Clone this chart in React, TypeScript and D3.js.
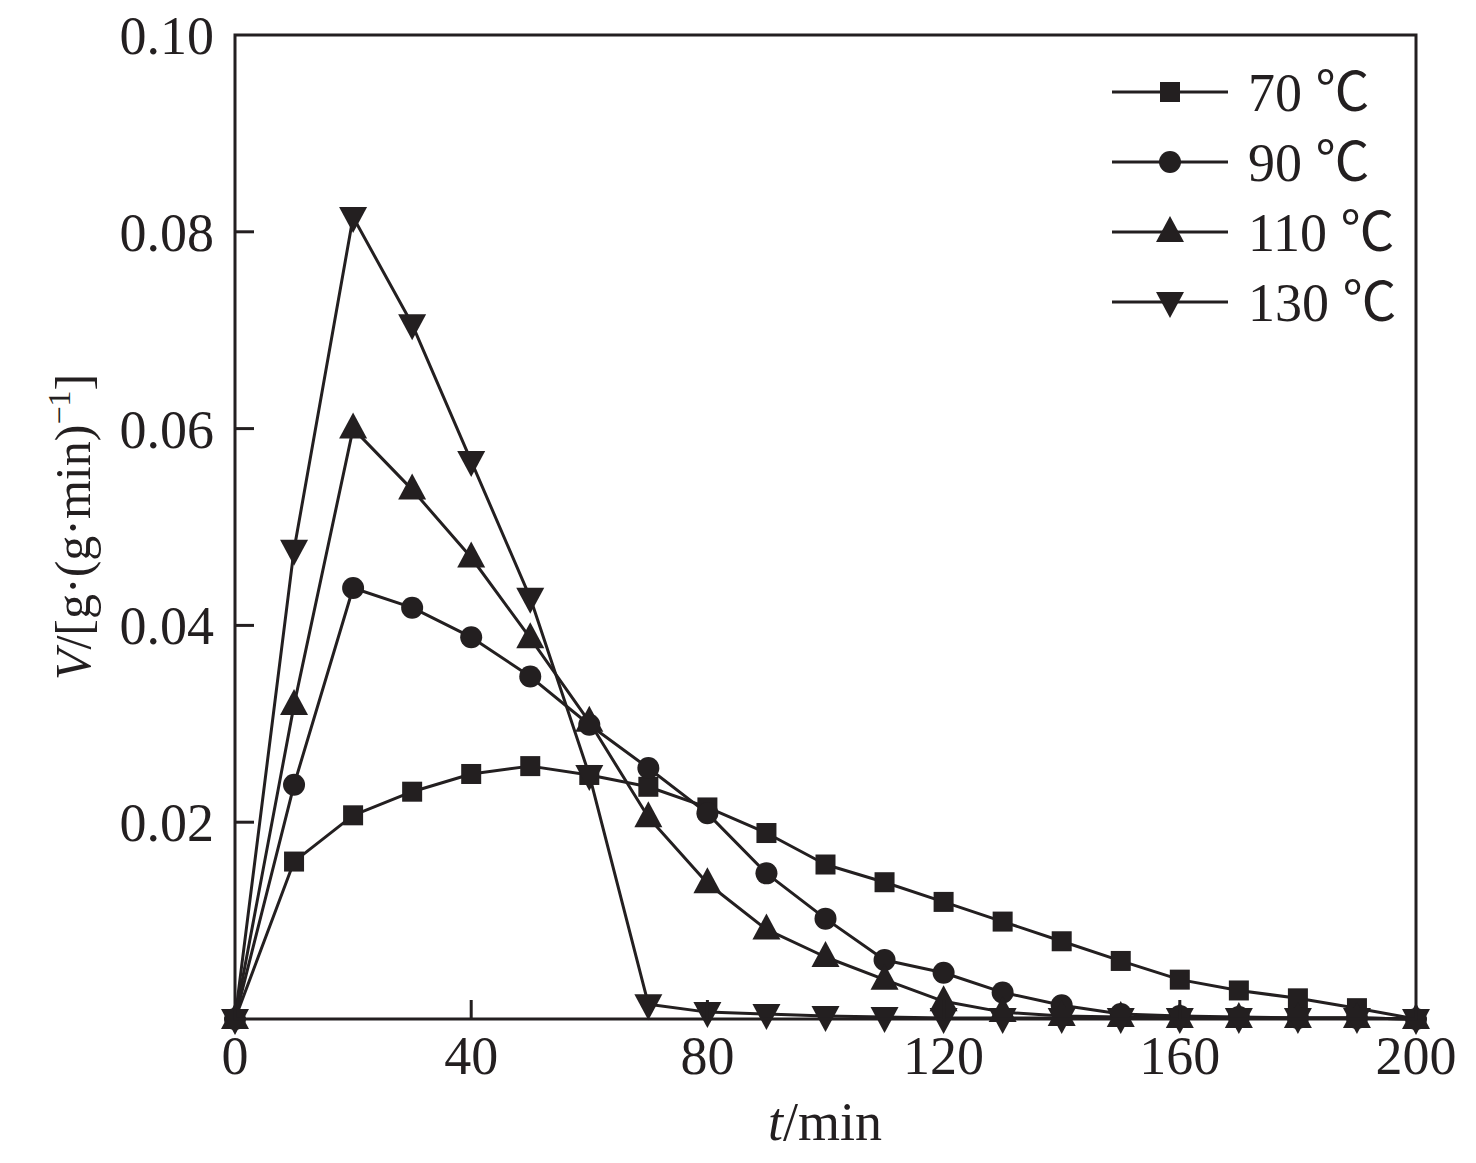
import * as React from 'react'
import * as d3 from 'd3'

// time points (min)
const times = [0, 10, 20, 30, 40, 50, 60, 70, 80, 90, 100, 110, 120, 130, 140, 150, 160, 170, 180, 190, 200]

const v70 = [0, 0.016, 0.0207, 0.0231, 0.0249, 0.0257, 0.0248, 0.0236, 0.0215, 0.0189, 0.0157, 0.0139, 0.0119, 0.0099, 0.0079, 0.0059, 0.004, 0.0029, 0.0021, 0.0011, 0]
const v90 = [0, 0.0238, 0.0438, 0.0418, 0.0388, 0.0348, 0.0299, 0.0255, 0.0209, 0.0148, 0.0102, 0.006, 0.0047, 0.0027, 0.0014, 0.0005, 0.0003, 0.0002, 0.0001, 0.0001, 0]
const v110 = [0, 0.0319, 0.06, 0.0538, 0.0469, 0.0387, 0.0302, 0.0205, 0.0138, 0.0091, 0.0063, 0.004, 0.0018, 0.0007, 0.0003, 0.0002, 0.0001, 0.0001, 0.0001, 0.0001, 0]
const v130 = [0, 0.0477, 0.0815, 0.0706, 0.0567, 0.0428, 0.0248, 0.0015, 0.0007, 0.0005, 0.0003, 0.0002, 0.0001, 0.0001, 0.0001, 0.0001, 0.0001, 0.0001, 0.0001, 0.0001, 0]

const seriesNames = ['70 ℃', '90 ℃', '110 ℃', '130 ℃']
const seriesShapes = ['square', 'circle', 'triangleUp', 'triangleDown']
const seriesValues = [v70, v90, v110, v130]

const xTicks = [0, 40, 80, 120, 160, 200]
const yTicks = [0.02, 0.04, 0.06, 0.08, 0.1]

const W = 1476
const H = 1163
const FONT = '"Liberation Serif", "Times New Roman", "Noto Sans CJK SC", serif'
const INK = '#231f20'

function Marker({ shape, x, y }: { shape: string; x: number; y: number }) {
  if (shape === 'square') {
    return <rect x={x - 10} y={y - 10} width={20} height={20} fill={INK} />
  }
  if (shape === 'circle') {
    return <circle cx={x} cy={y} r={11} fill={INK} />
  }
  if (shape === 'triangleUp') {
    return <path d={`M${x},${y - 16}L${x + 14},${y + 10}L${x - 14},${y + 10}Z`} fill={INK} />
  }
  return <path d={`M${x},${y + 16}L${x + 14},${y - 10}L${x - 14},${y - 10}Z`} fill={INK} />
}

export default function App() {
  const x = d3.scaleLinear().domain([0, 200]).range([235, 1416])
  const y = d3.scaleLinear().domain([0, 0.1]).range([1019, 35])

  const line = d3.line<number>()
    .x((_, i) => x(times[i]))
    .y(d => y(d))

  const legendX0 = 1112
  const legendX1 = 1228
  const legendRows = [92, 162, 232, 302]

  return (
    <svg width={W} height={H} style={{ position: 'absolute', left: 0, top: 0, background: '#fff' }} fontFamily={FONT}>
      <rect width={W} height={H} fill="#fff" />

      {/* series */}
      {seriesValues.map((vals, si) => (
        <g key={si}>
          <path d={line(vals) || ''} fill="none" stroke={INK} strokeWidth={3} strokeLinejoin="round" />
          {vals.map((v, i) => (
            <Marker key={i} shape={seriesShapes[si]} x={x(times[i])} y={y(v)} />
          ))}
        </g>
      ))}

      {/* frame */}
      <rect x={x(0)} y={y(0.1)} width={x(200) - x(0)} height={y(0) - y(0.1)} fill="none" stroke={INK} strokeWidth={3} />

      {/* x ticks */}
      {xTicks.map(t => (
        <g key={t}>
          {t > 0 && t < 200 && (
            <line x1={x(t)} x2={x(t)} y1={y(0)} y2={y(0) - 19} stroke={INK} strokeWidth={3} />
          )}
          <text x={x(t)} y={1074} fontSize={54} textAnchor="middle" fill={INK}>{t}</text>
        </g>
      ))}

      {/* y ticks */}
      {yTicks.map(t => (
        <g key={t}>
          {t < 0.1 && (
            <line x1={x(0)} x2={x(0) + 19} y1={y(t)} y2={y(t)} stroke={INK} strokeWidth={3} />
          )}
          <text x={214} y={y(t) + 19} fontSize={54} textAnchor="end" fill={INK}>{t.toFixed(2)}</text>
        </g>
      ))}

      {/* axis titles */}
      <text x={825} y={1140} fontSize={54} textAnchor="middle" fill={INK}>
        <tspan fontStyle="italic">t</tspan>/min
      </text>
      <text transform={`translate(90,527) rotate(-90)`} fontSize={50} textAnchor="middle" fill={INK}>
        <tspan fontStyle="italic">V</tspan>/[g·(g·min)<tspan fontSize={32} dy={-20}>−1</tspan><tspan dy={20}>]</tspan>
      </text>

      {/* legend */}
      {seriesNames.map((name, si) => (
        <g key={name}>
          <line x1={legendX0} x2={legendX1} y1={legendRows[si]} y2={legendRows[si]} stroke={INK} strokeWidth={3} />
          <Marker shape={seriesShapes[si]} x={(legendX0 + legendX1) / 2} y={legendRows[si]} />
          <text x={1248} y={legendRows[si] + 19} fontSize={54} fill={INK}>{name}</text>
        </g>
      ))}
    </svg>
  )
}
